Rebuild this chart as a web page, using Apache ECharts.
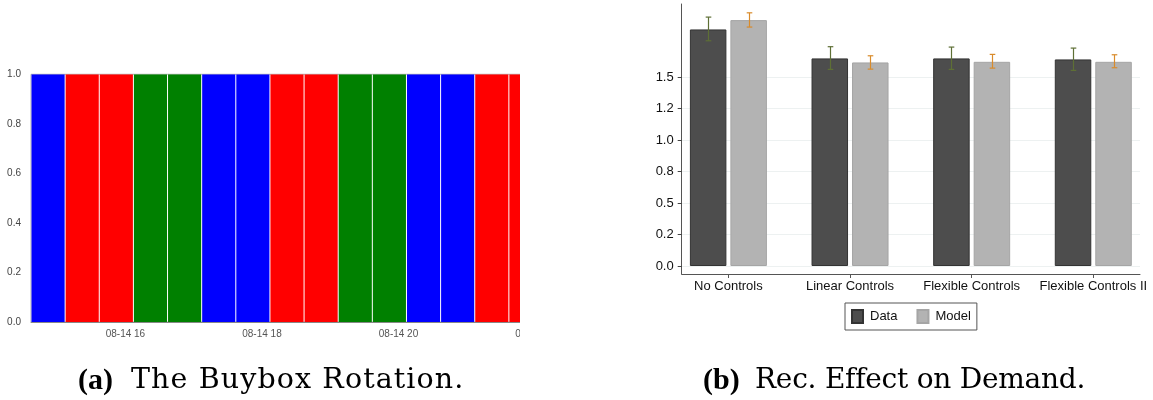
<!DOCTYPE html>
<html>
<head>
<meta charset="utf-8">
<script src="https://cdn.jsdelivr.net/npm/echarts@6/dist/echarts.min.js"></script>
<style>
  html, body { margin: 0; padding: 0; background: #fff; }
  #page { position: relative; width: 1153px; height: 400px; overflow: hidden; background: #fff; }
  #rightChart { position: absolute; left: 0; top: 0; width: 1153px; height: 400px; }
  #leftCrop { position: absolute; left: 0; top: 0; width: 520px; height: 345px; overflow: hidden; background: #fff; }
  #leftChart { position: absolute; left: 0; top: 0; width: 600px; height: 345px; }
  .cap { position: absolute; top: 364px; font-family: "DejaVu Serif", serif; font-size: 28px; line-height: 30px; color: #000; white-space: nowrap; }
  .cap b { font-family: "Liberation Serif", serif; font-size: 30px; }
</style>
</head>
<body>
<div id="page">
  <div id="rightChart"></div>
  <div id="leftCrop"><div id="leftChart"></div></div>
  <div class="cap" style="left:78px"><b>(a)</b></div>
  <div class="cap" style="left:131px; font-size:28.5px; letter-spacing:1.1px">The Buybox Rotation.</div>
  <div class="cap" style="left:703px"><b>(b)</b></div>
  <div class="cap" style="left:755px; letter-spacing:-0.25px">Rec. Effect on Demand.</div>
</div>
<script>
// ---------- Panel (a): buybox rotation ----------
const rotationBoundaries = [
  '2017-08-14 14:37', '2017-08-14 15:07', '2017-08-14 15:37', '2017-08-14 16:07',
  '2017-08-14 16:37', '2017-08-14 17:07', '2017-08-14 17:37', '2017-08-14 18:07',
  '2017-08-14 18:37', '2017-08-14 19:07', '2017-08-14 19:37', '2017-08-14 20:07',
  '2017-08-14 20:37', '2017-08-14 21:07', '2017-08-14 21:37', '2017-08-14 22:07'
];
const rotationHolder = ['blue', 'red', 'red', 'green', 'green', 'blue', 'blue', 'red',
                        'red', 'green', 'green', 'blue', 'blue', 'red', 'red'];
const sellerNames = ['blue', 'red', 'green'];
const rotationXLabels = ['2017-08-14 16:00', '2017-08-14 18:00', '2017-08-14 20:00', '2017-08-14 22:00'];
const rotationYTicks = [0, 0.2, 0.4, 0.6, 0.8, 1.0];

// ---------- Panel (b): recommendation effect ----------
const categories = ['No Controls', 'Linear Controls', 'Flexible Controls', 'Flexible Controls II'];
const dataValues  = [1.878, 1.648, 1.648, 1.640];
const dataLow     = [1.788, 1.561, 1.561, 1.553];
const dataHigh    = [1.976, 1.741, 1.738, 1.730];
const modelValues = [1.952, 1.616, 1.621, 1.621];
const modelLow    = [1.897, 1.563, 1.571, 1.574];
const modelHigh   = [2.010, 1.669, 1.680, 1.677];
const yTickValues = [0, 0.25, 0.5, 0.75, 1.0, 1.25, 1.5];
const yTickLabels = ['0.0', '0.2', '0.5', '0.8', '1.0', '1.2', '1.5'];

function toMs(s) {
  const [d, t] = s.split(' ');
  const [Y, M, D] = d.split('-').map(Number);
  const [h, m] = t.split(':').map(Number);
  return new Date(Y, M - 1, D, h, m).getTime();
}
function pad(n) { return (n < 10 ? '0' : '') + n; }

// ----- left chart -----
const leftChart = echarts.init(document.getElementById('leftChart'), null, { renderer: 'canvas' });
const sellerColors = { blue: '#0000ff', red: '#ff0000', green: '#008000' };
const leftSeries = sellerNames.map(name => ({
  type: 'custom',
  name: name,
  clip: true,
  itemStyle: { color: sellerColors[name] },
  encode: { x: [0, 1], y: [2, 3] },
  data: rotationHolder.map((h, i) => h === name ? [toMs(rotationBoundaries[i]), toMs(rotationBoundaries[i + 1]), 0, 1] : null).filter(Boolean),
  renderItem: function (params, api) {
    const p0 = api.coord([api.value(0), api.value(2)]);
    const p1 = api.coord([api.value(1), api.value(3)]);
    const x0 = p0[0] + 0.5, x1 = p1[0] - 0.5;
    return {
      type: 'rect',
      shape: { x: x0, y: p1[1], width: x1 - x0, height: p0[1] - p1[1] },
      style: { fill: sellerColors[name] }
    };
  }
}));
leftChart.setOption({
  animation: false,
  backgroundColor: '#fff',
  grid: { left: 31, top: 74.3, right: 57, bottom: 23, show: true, borderColor: '#b0b0b0', borderWidth: 1, backgroundColor: 'transparent' },
  xAxis: {
    type: 'value',
    min: toMs(rotationBoundaries[0]),
    max: toMs(rotationBoundaries[rotationBoundaries.length - 1]),
    axisLine: { show: true, onZero: false, lineStyle: { color: '#888', width: 1 } },
    axisTick: { show: false },
    splitLine: { show: false },
    axisLabel: {
      customValues: rotationXLabels.map(toMs),
      color: '#555', fontSize: 10, fontFamily: 'Liberation Sans', margin: 7,
      formatter: function (v) { const d = new Date(v); return pad(d.getMonth() + 1) + '-' + pad(d.getDate()) + ' ' + pad(d.getHours()); }
    }
  },
  yAxis: {
    type: 'value', min: 0, max: 1, interval: 0.2,
    axisLine: { show: false }, axisTick: { show: false }, splitLine: { show: false },
    axisLabel: { color: '#444', fontSize: 10, fontFamily: 'Liberation Sans', margin: 10,
      formatter: v => v.toFixed(1) }
  },
  series: leftSeries
});

// ----- right chart -----
const rightChart = echarts.init(document.getElementById('rightChart'), null, { renderer: 'canvas' });
const barW = 36.5, barGapPx = 4;
const halfOffset = (barW + barGapPx) / 2;
function errorSeries(name, lows, highs, color, offset) {
  return {
    type: 'custom', name: name + ' CI', z: 5,
    data: categories.map((c, i) => [i, lows[i], highs[i]]),
    encode: { x: 0, y: [1, 2] },
    renderItem: function (params, api) {
      const pLo = api.coord([api.value(0), api.value(1)]);
      const pHi = api.coord([api.value(0), api.value(2)]);
      const cx = Math.round(pLo[0] + offset) + 0.5;
      const cap = 2.8;
      const st = { stroke: color, lineWidth: 1.2 };
      return {
        type: 'group',
        children: [
          { type: 'line', shape: { x1: cx, y1: pLo[1], x2: cx, y2: pHi[1] }, style: st },
          { type: 'line', shape: { x1: cx - cap, y1: pLo[1], x2: cx + cap, y2: pLo[1] }, style: st },
          { type: 'line', shape: { x1: cx - cap, y1: pHi[1], x2: cx + cap, y2: pHi[1] }, style: st }
        ]
      };
    }
  };
}
const sansFont = 'Liberation Sans';
rightChart.setOption({
  animation: false,
  backgroundColor: '#fff',
  textStyle: { fontFamily: sansFont },
  grid: { left: 681.7, right: 13, top: 4, bottom: 126 },
  legend: {
    data: ['Data', 'Model'],
    left: 845, top: 303,
    orient: 'horizontal',
    icon: 'rect',
    itemWidth: 11, itemHeight: 13, itemGap: 19,
    padding: [6, 6, 6, 6],
    borderColor: '#555', borderWidth: 1,
    textStyle: { fontSize: 13, color: '#111', fontFamily: sansFont, padding: [0, 0, 0, 2] }
  },
  xAxis: {
    type: 'value', min: -0.384, max: 3.384,
    axisLine: { show: true, onZero: false, lineStyle: { color: '#555', width: 1 } },
    axisTick: { show: true, customValues: [0, 1, 2, 3], length: 4, lineStyle: { color: '#555' } },
    splitLine: { show: false },
    axisLabel: { customValues: [0, 1, 2, 3], fontSize: 13, color: '#111', margin: 6, fontFamily: sansFont,
      formatter: v => categories[Math.round(v)] }
  },
  yAxis: {
    type: 'value', min: -0.0635, max: 2.08,
    axisLine: { show: true, onZero: false, lineStyle: { color: '#555', width: 1 } },
    axisTick: { show: true, customValues: yTickValues, length: 4, lineStyle: { color: '#444' } },
    splitLine: { show: true, lineStyle: { color: '#edf1f1', width: 1 } },
    axisLabel: { customValues: yTickValues, fontSize: 13, color: '#111', margin: 8, fontFamily: sansFont,
      formatter: v => yTickLabels[yTickValues.findIndex(t => Math.abs(t - v) < 1e-6)] }
  },
  series: [
    { type: 'bar', name: 'Data', barWidth: barW, barGap: (barGapPx / barW * 100) + '%',
      data: dataValues.map((v, i) => [i, v]),
      itemStyle: { color: '#4d4d4d', borderColor: '#333', borderWidth: 1 } },
    { type: 'bar', name: 'Model', barWidth: barW,
      data: modelValues.map((v, i) => [i, v]),
      itemStyle: { color: '#b3b3b3', borderColor: '#a5a5a5', borderWidth: 1 } },
    errorSeries('Data', dataLow, dataHigh, '#5e6f35', -halfOffset),
    errorSeries('Model', modelLow, modelHigh, '#d98b2b', halfOffset)
  ]
});
</script>
</body>
</html>
